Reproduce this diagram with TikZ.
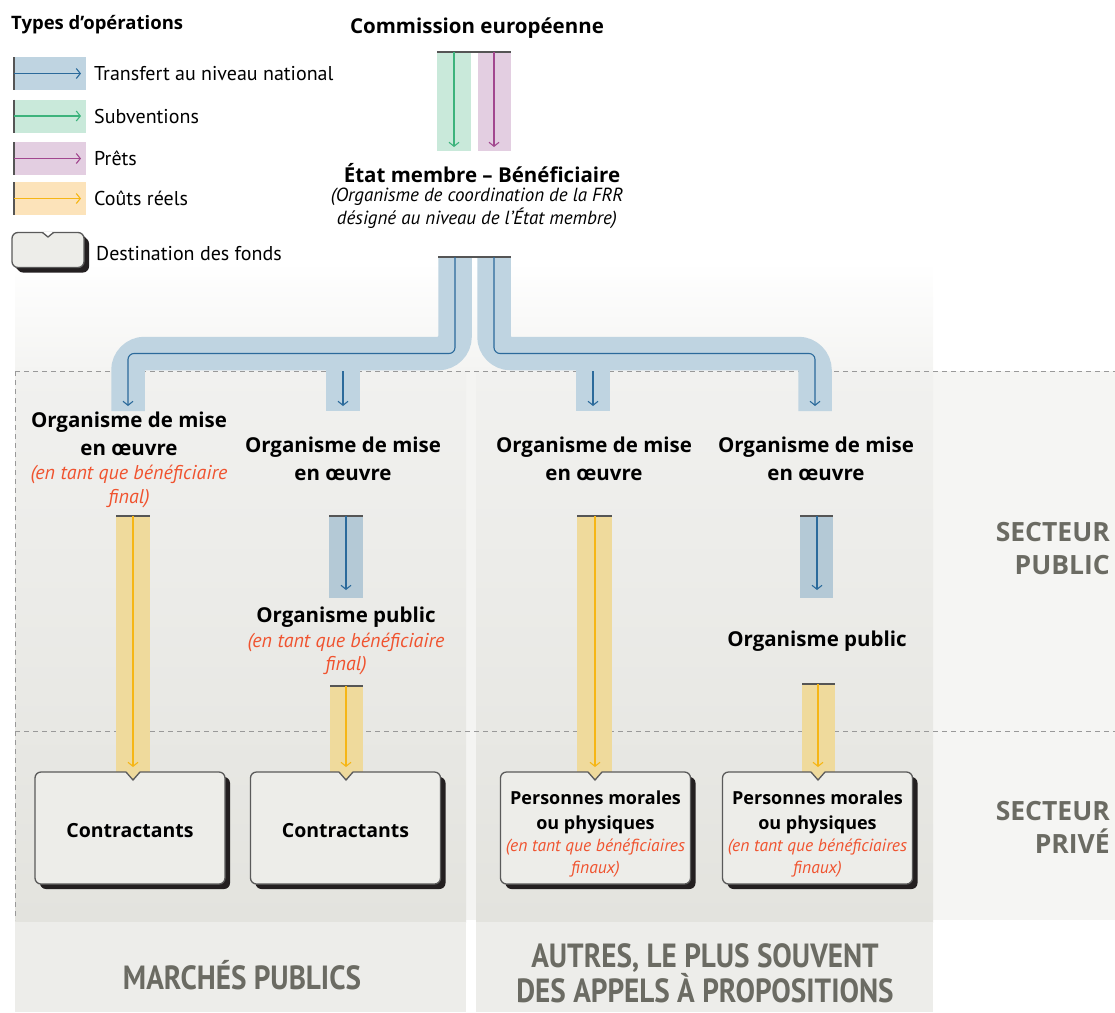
\documentclass[tikz,border=0pt]{standalone}
\usepackage{fontspec}
\setmainfont{PT Sans}
\newfontfamily\osans{Open Sans}
\newfontfamily\condfont[FakeStretch=0.87]{PT Sans}
\usetikzlibrary{arrows.meta,shadows}
\definecolor{bluefill}{HTML}{BFD4E1}
\definecolor{bluebar}{HTML}{B4C9D6}
\definecolor{blueline}{HTML}{2B6A9B}
\definecolor{greenfill}{HTML}{C9E9DA}
\definecolor{greenline}{HTML}{3DB37C}
\definecolor{purplefill}{HTML}{E3CEE1}
\definecolor{purpleline}{HTML}{A2478F}
\definecolor{yelfill}{HTML}{EFDA9C}
\definecolor{legyel}{HTML}{FCE3BA}
\definecolor{yelline}{HTML}{F6B615}
\definecolor{redtxt}{HTML}{F0532F}
\definecolor{graytxt}{HTML}{6B6B63}
\definecolor{boxfill}{HTML}{EDEDE9}
\definecolor{boxline}{HTML}{5A5A5A}
\definecolor{shadowc}{HTML}{231F20}
\definecolor{bgtop}{HTML}{F4F4F2}
\definecolor{bgright}{HTML}{F5F5F3}
\definecolor{gapc}{HTML}{F4F4F2}
\definecolor{pantop}{HTML}{F1F1EF}
\definecolor{panbot}{HTML}{E3E3DE}
\definecolor{labbg}{HTML}{EDEDEA}
\definecolor{topl}{HTML}{555555}
\tikzset{
  arr/.style={-{Straight Barb[length=4pt,width=10pt]}, line width=1.1pt},
  topline/.style={draw=topl, line width=1.5pt},
  pipe/.style={draw=bluefill, line width=33.5pt, rounded corners=16.75pt, line cap=butt},
  dashline/.style={draw=gray!80, line width=0.8pt, dash pattern=on 5pt off 4pt},
  destbox/.style={draw=boxline, line width=1.3pt, fill=boxfill, rounded corners=6pt,
     minimum width=190pt, minimum height=112pt, inner sep=0pt,
     drop shadow={shadow xshift=5pt, shadow yshift=-5pt, opacity=1, fill=shadowc}},
  notchline/.style={draw=boxline, line width=1.3pt},
  hd/.style={font=\osans\fontsize{20.5}{28}\selectfont\bfseries, align=center, inner sep=0pt},
  hdc/.style={font=\osans\fontsize{19.5}{28}\selectfont\bfseries, align=center, inner sep=0pt},
  hdb/.style={font=\osans\fontsize{18}{25}\selectfont\bfseries, align=center, inner sep=0pt},
  rd/.style={font=\fontsize{20}{23.5}\selectfont\itshape, text=redtxt, align=center, inner sep=0pt},
  rdb/.style={font=\fontsize{17.5}{22}\selectfont\itshape, text=redtxt, align=center, inner sep=0pt},
  it/.style={font=\fontsize{19}{23}\selectfont\itshape, align=center, inner sep=0pt},
  leg/.style={font=\fontsize{20}{22}\selectfont, anchor=west, inner sep=0pt},
  rl/.style={font=\osans\fontsize{26.5}{33}\selectfont\bfseries, text=graytxt, align=right, anchor=east, inner sep=0pt},
  bl/.style={font=\condfont\fontsize{33.5}{35}\selectfont\bfseries, text=graytxt, align=center, inner sep=0pt}
}
\begin{document}
\begin{tikzpicture}[x=1pt,y=-1pt]
\useasboundingbox (0,0) rectangle (1115,1012);
% ---------- backgrounds
\shade[top color=white,bottom color=bgtop] (15,262) rectangle (933,371);
\fill[bgright] (933,371) rectangle (1115,920);
\fill[gapc] (466,371) rectangle (476,920);
\shade[top color=pantop,bottom color=panbot] (15,371) rectangle (466,922);
\shade[top color=pantop,bottom color=panbot] (476,371) rectangle (933,922);
\fill[labbg] (15,922) rectangle (466,1012);
\fill[labbg] (476,922) rectangle (933,1012);
\draw[dashline] (15,371) -- (1115,371);
\draw[dashline] (15,731) -- (1115,731);
\draw[dashline] (15,371) -- (15,920);
% ---------- legend
\node[font=\osans\fontsize{18.5}{20}\selectfont\bfseries, anchor=west, inner sep=0pt] (legtitle) at (11,25) {Types d’opérations};
\foreach \c/\f/\l/\n/\t in {73.5/bluefill/blueline/l1/Transfert au niveau national,
                            116/greenfill/greenline/l2/Subventions,
                            158.5/purplefill/purpleline/l3/Prêts,
                            198.5/legyel/yelline/l4/Coûts réels}{
  \fill[\f] (13,\c-16.5) rectangle (86,\c+16.5);
  \draw[draw=topl, line width=1.3pt] (14,\c-16.5) -- (14,\c+16.5);
  \coordinate (\n s) at (14,\c);
  \coordinate (\n e) at (81,\c);
  \draw[arr, \l] (\n s) -- (\n e);
  \node[leg] (\n t) at (94,\c) {\t};
}
\node[destbox, minimum width=72pt, minimum height=35pt,
      drop shadow={shadow xshift=3pt, shadow yshift=-3pt, opacity=1, fill=shadowc}] (legbox) at (48,250) {};
\fill[white] (42.5,231.5) -- (48,237) -- (53.5,231.5) -- cycle;
\draw[notchline] (42.5,232.5) -- (48,237) -- (53.5,232.5);
\node[leg] (legboxt) at (96,254) {Destination des fonds};
% ---------- top
\node[hd] (ce) at (477,28) {Commission européenne};
\fill[greenfill] (437,52) rectangle (471,151);
\fill[purplefill] (478,52) rectangle (511,151);
\draw[topline] (437,52) -- (511,52);
\coordinate (gs) at (454,52); \coordinate (ge) at (454,147);
\coordinate (ps) at (494,52); \coordinate (pe) at (494,147);
\draw[arr, greenline] (gs) -- (ge);
\draw[arr, purpleline] (ps) -- (pe);
\node[hd] (em) at (482,173) {État membre – Bénéficiaire};
\node[it] (emi) at (477,208.5) {(Organisme de coordination de la FRR\\désigné au niveau de l’État membre)};
% ---------- pipes
\draw[pipe] (455,257) -- (455,353.5) -- (128,353.5) -- (128,411);
\draw[pipe] (494,257) -- (494,353.5) -- (815,353.5) -- (815,411);
\fill[bluefill] (326,369) rectangle (360,411);
\fill[bluefill] (576,369) rectangle (610,411);
\draw[topline] (438,257) -- (511,257);
\coordinate (p1s) at (455,257); \coordinate (p1e) at (128,406);
\coordinate (p2s) at (494,257); \coordinate (p2e) at (815,406);
\coordinate (s2s) at (343,371); \coordinate (s2e) at (343,406);
\coordinate (s3s) at (593,371); \coordinate (s3e) at (593,406);
\draw[arr, blueline, rounded corners=6pt] (p1s) |- (128,353.5) -- (p1e);
\draw[arr, blueline, rounded corners=6pt] (p2s) |- (815,353.5) -- (p2e);
\draw[arr, blueline] (s2s) -- (s2e);
\draw[arr, blueline] (s3s) -- (s3e);
% ---------- implementing bodies
\node[hd] (om1) at (129,434) {Organisme de mise\\en œuvre};
\node[rd] (om1r) at (129,486.5) {(en tant que bénéficiaire\\final)};
\node[hd] (om2) at (343,459) {Organisme de mise\\en œuvre};
\node[hd] (om3) at (594,459) {Organisme de mise\\en œuvre};
\node[hd] (om4) at (816,459) {Organisme de mise\\en œuvre};
% blue bars
\fill[bluebar] (329,516) rectangle (363,598);
\fill[bluebar] (800,516) rectangle (833,598);
\draw[topline] (329,516) -- (363,516);
\draw[topline] (800,516) -- (833,516);
\coordinate (c2s) at (346,516); \coordinate (c2e) at (346,590);
\coordinate (c4s) at (817,516); \coordinate (c4e) at (817,590);
\draw[arr, blueline] (c2s) -- (c2e);
\draw[arr, blueline] (c4s) -- (c4e);
\node[hd] (op2) at (346,617) {Organisme public};
\node[rd] (op2r) at (346,654) {(en tant que bénéficiaire\\final)};
\node[hd] (op4) at (817,641) {Organisme public};
% yellow bars
\fill[yelfill] (116,516) rectangle (150,772);
\fill[yelfill] (577,516) rectangle (612,772);
\fill[yelfill] (330,686) rectangle (363,772);
\fill[yelfill] (802,684) rectangle (835,772);
\draw[topline] (116,516) -- (150,516);
\draw[topline] (577,516) -- (612,516);
\draw[topline] (330,686) -- (363,686);
\draw[topline] (802,684) -- (835,684);
% boxes
\node[destbox] (b1) at (130,828) {};
\node[destbox] (b2) at (345.5,828) {};
\node[destbox] (b3) at (595.5,828) {};
\node[destbox] (b4) at (817.5,828) {};
\foreach \x in {133,346,595,818}{
  \fill[yelfill] (\x-7,771) -- (\x,780) -- (\x+7,771) -- cycle;
  \draw[notchline] (\x-7,772) -- (\x,780) -- (\x+7,772);
}
\coordinate (y1s) at (133,516); \coordinate (y1e) at (133,767);
\coordinate (y2s) at (346,686); \coordinate (y2e) at (346,767);
\coordinate (y3s) at (595,516); \coordinate (y3e) at (595,767);
\coordinate (y4s) at (818,684); \coordinate (y4e) at (818,767);
\draw[arr, yelline] (y1s) -- (y1e);
\draw[arr, yelline] (y2s) -- (y2e);
\draw[arr, yelline] (y3s) -- (y3e);
\draw[arr, yelline] (y4s) -- (y4e);
\node[hdc] (b1t) at (130,831) {Contractants};
\node[hdc] (b2t) at (345.5,831) {Contractants};
\node[hdb] (b3t) at (595.5,812.5) {Personnes morales\\ou physiques};
\node[rdb] (b3r) at (595.5,858) {(en tant que bénéficiaires\\finaux)};
\node[hdb] (b4t) at (817.5,812.5) {Personnes morales\\ou physiques};
\node[rdb] (b4r) at (817.5,858) {(en tant que bénéficiaires\\finaux)};
% ---------- side and bottom labels
\node[rl] (sp) at (1110,548.5) {SECTEUR\\PUBLIC};
\node[rl] (spr) at (1110,827) {SECTEUR\\PRIVÉ};
\node[bl] (mp) at (242,975) {MARCHÉS PUBLICS};
\node[bl] (ap) at (705,973.5) {AUTRES, LE PLUS SOUVENT\\DES APPELS À PROPOSITIONS};
\end{tikzpicture}
\end{document}
